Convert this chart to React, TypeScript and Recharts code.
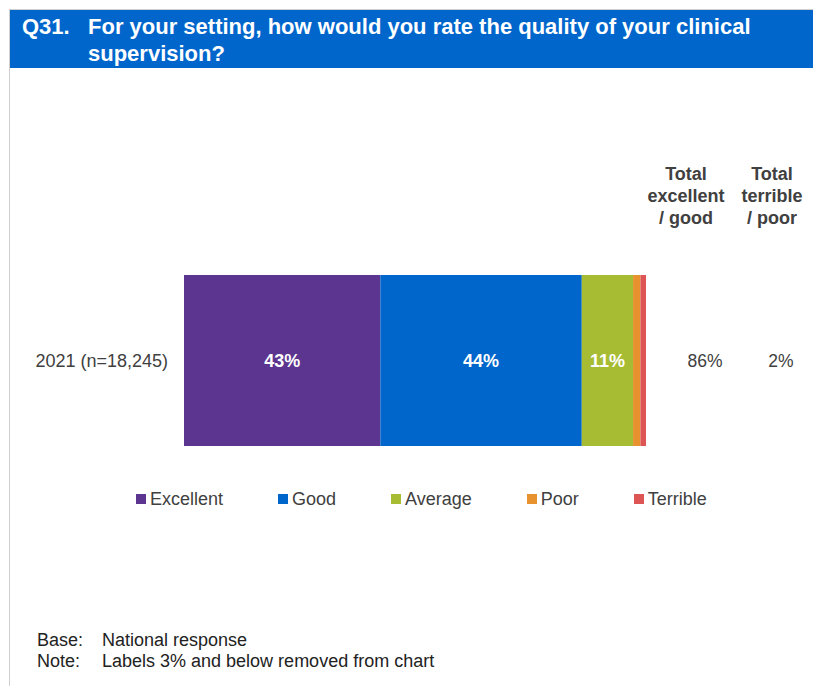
import { BarChart, Bar, XAxis, YAxis, LabelList } from 'recharts';

const years = ['2021 (n=18,245)'];
const excellent = [42.5];
const good = [43.6];
const average = [11.1];
const poor = [1.6];
const terrible = [1.2];
const totalExcellentGood = [86];
const totalTerriblePoor = [2];

const seriesNames = ['Excellent', 'Good', 'Average', 'Poor', 'Terrible'];
const seriesKeys = ['excellent', 'good', 'average', 'poor', 'terrible'];
const seriesColors = ['#5B358F', '#0066CC', '#A8BC33', '#E8912F', '#DD5555'];

const data = years.map((year, i) => ({
  year,
  excellent: excellent[i],
  good: good[i],
  average: average[i],
  poor: poor[i],
  terrible: terrible[i],
  totalGood: totalExcellentGood[i],
  totalPoor: totalTerriblePoor[i],
}));

const FONT = '"Liberation Sans", Arial, sans-serif';
const GREY = '#404040';

// hide labels 3% and below, like the note says
const pctLabel = (v: any) => (Number(v) > 3 ? `${Math.round(Number(v))}%` : '');

function TotalsLabel(props: any) {
  const { y, height, index } = props;
  const row = data[index];
  const cy = y + height / 2;
  return (
    <g fontFamily={FONT} fontSize={17.5} fill={GREY}>
      <text x={705} y={cy} textAnchor="middle" dominantBaseline="central">
        {row.totalGood}%
      </text>
      <text x={781} y={cy} textAnchor="middle" dominantBaseline="central">
        {row.totalPoor}%
      </text>
    </g>
  );
}

export default function App() {
  return (
    <div
      style={{
        position: 'absolute',
        left: 0,
        top: 0,
        width: 813,
        height: 686,
        background: '#fff',
        fontFamily: FONT,
        overflow: 'hidden',
      }}
    >
      {/* frame */}
      <div
        style={{
          position: 'absolute',
          left: 9,
          top: 9,
          width: 820,
          height: 700,
          borderLeft: '1px solid #cfcfcf',
          borderTop: '1px solid #cfcfcf',
        }}
      />
      {/* header */}
      <div
        style={{
          position: 'absolute',
          left: 10,
          top: 10,
          width: 803,
          height: 58,
          background: '#0066CC',
          color: '#fff',
          fontWeight: 'bold',
          fontSize: 22,
          lineHeight: '27px',
        }}
      >
        <div style={{ position: 'absolute', left: 12, top: 3 }}>Q31.</div>
        <div style={{ position: 'absolute', left: 78, top: 3, width: 700 }}>
          For your setting, how would you rate the quality of your clinical supervision?
        </div>
      </div>

      {/* column headers */}
      {[
        ['Total', 'excellent', '/ good', 686],
        ['Total', 'terrible', '/ poor', 772],
      ].map(([a, b, c, x]) => (
        <div
          key={String(x)}
          style={{
            position: 'absolute',
            left: Number(x) - 60,
            width: 120,
            top: 163,
            textAlign: 'center',
            fontWeight: 'bold',
            fontSize: 18,
            lineHeight: '22px',
            color: GREY,
          }}
        >
          {a}
          <br />
          {b}
          <br />
          {c}
        </div>
      ))}

      <div style={{ position: 'absolute', left: 0, top: 0 }}>
        <BarChart
          width={813}
          height={686}
          data={data}
          layout="vertical"
          barCategoryGap={0}
          margin={{ top: 275, right: 167, bottom: 240, left: 0 }}
        >
          <XAxis type="number" domain={[0, 100]} hide />
          <YAxis
            type="category"
            dataKey="year"
            width={184}
            axisLine={false}
            tickLine={false}
            tickSize={0}
            tickMargin={16}
            tick={{ fill: GREY, fontSize: 18, fontFamily: FONT }}
          />
          {seriesKeys.map((key, i) => (
            <Bar
              key={key}
              dataKey={key}
              name={seriesNames[i]}
              stackId="a"
              fill={seriesColors[i]}
              isAnimationActive={false}
            >
              <LabelList
                dataKey={key}
                position="center"
                formatter={pctLabel}
                fill="#fff"
                fontWeight="bold"
                fontSize={18}
                fontFamily={FONT}
              />
              {key === 'terrible' && <LabelList dataKey={key} content={TotalsLabel} />}
            </Bar>
          ))}
        </BarChart>
      </div>

      {/* legend */}
      <div
        style={{
          position: 'absolute',
          left: 136,
          top: 489,
          display: 'flex',
          gap: 55,
          fontSize: 18,
          color: GREY,
          lineHeight: '20px',
        }}
      >
        {seriesNames.map((name, i) => (
          <div key={name} style={{ display: 'flex', alignItems: 'center' }}>
            <span
              style={{
                display: 'inline-block',
                width: 10,
                height: 10,
                background: seriesColors[i],
                marginRight: 4,
              }}
            />
            {name}
          </div>
        ))}
      </div>

      {/* footer */}
      <div
        style={{
          position: 'absolute',
          left: 37,
          top: 630,
          fontSize: 18,
          lineHeight: '21px',
          color: '#222',
        }}
      >
        <div>
          <span style={{ display: 'inline-block', width: 65 }}>Base:</span>National response
        </div>
        <div>
          <span style={{ display: 'inline-block', width: 65 }}>Note:</span>Labels 3% and below
          removed from chart
        </div>
      </div>
    </div>
  );
}
